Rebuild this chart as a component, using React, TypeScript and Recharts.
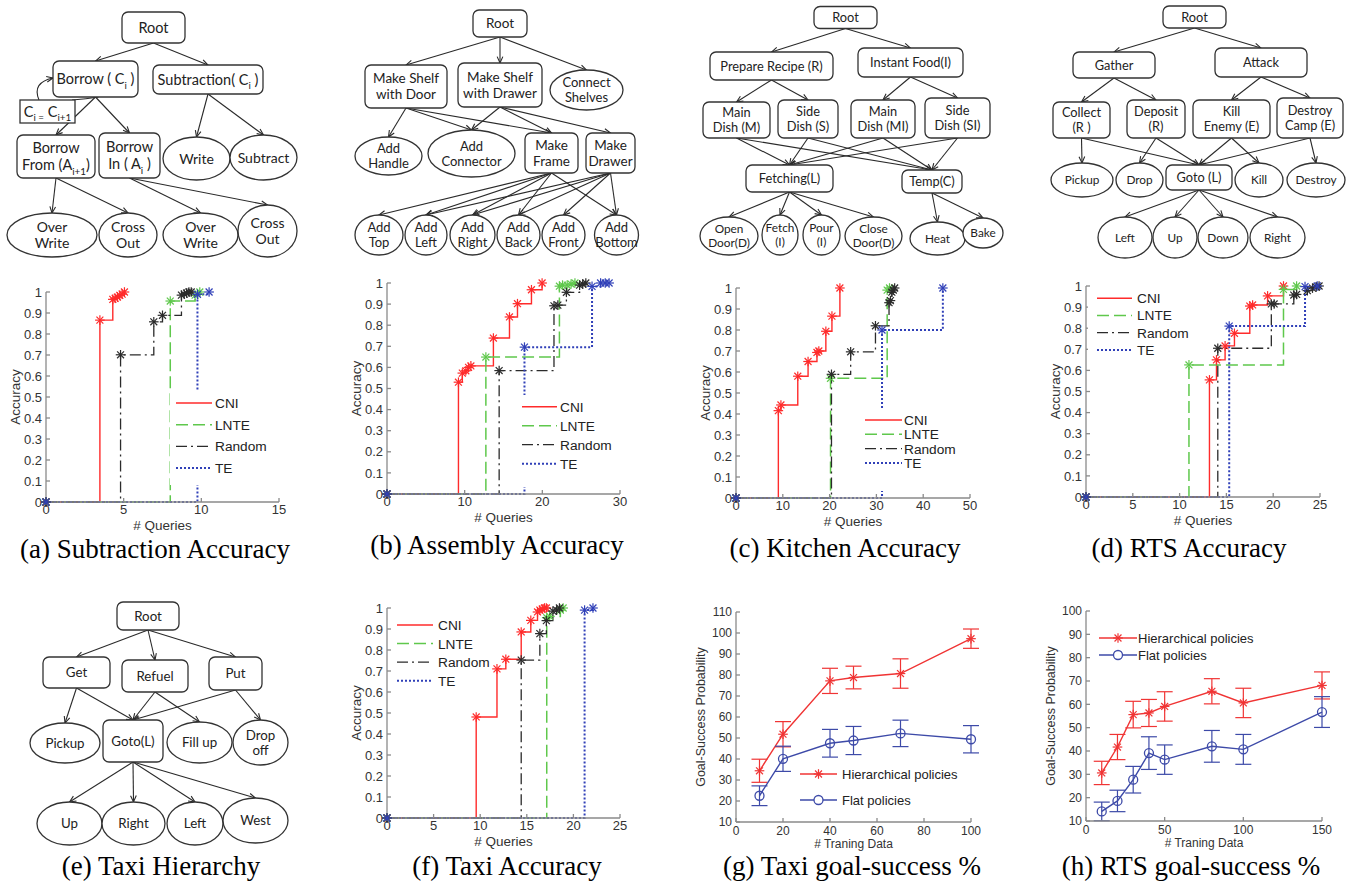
import React from 'react';
import { LineChart, Line, XAxis, YAxis, ErrorBar, ScatterChart, Scatter, ReferenceLine } from 'recharts';

const SANS = '"Liberation Sans", Arial, Helvetica, sans-serif';
const TREE = 'Lato, "Noto Sans", sans-serif';
const SERIF = '"Liberation Serif", "Times New Roman", serif';
const AXIS = '#8a8a8a';
const TXT = '#333';

// ---------------- accuracy (step) chart data ----------------
const methodNames = ['CNI', 'LNTE', 'Random', 'TE'];
const methodColors = ['#ff2b2b', '#5fc84c', '#2b2b2b', '#3040b8'];
const methodDash = ['', '12 5', '11 4 2 4', '2 2'];
const methodWidth = [1.4, 1.5, 1.3, 2];
const accuracyTicks = [0, 0.1, 0.2, 0.3, 0.4, 0.5, 0.6, 0.7, 0.8, 0.9, 1];

const subtractionXTicks = [0, 5, 10, 15];
const subtractionCNI = [[0, 0], [3.47, 0.866], [4.3, 0.965], [4.45, 0.97], [4.6, 0.976], [4.75, 0.984], [4.9, 0.99], [5.05, 1]];
const subtractionLNTE = [[0, 0], [8, 0.957], [9.6, 0.985], [9.9, 1]];
const subtractionRandom = [[0, 0], [4.8, 0.701], [6.94, 0.858], [7.5, 0.889], [8.72, 0.985], [8.9, 0.99], [9.05, 0.995], [9.2, 1], [9.35, 1]];
const subtractionTE = [[0, 0], [9.75, 0.989], [10.5, 1]];

const assemblyXTicks = [0, 10, 20, 30];
const assemblyCNI = [[0, 0], [9.2, 0.53], [9.7, 0.573], [10.15, 0.584], [10.5, 0.6], [10.8, 0.607], [13.7, 0.739], [15.77, 0.839], [16.8, 0.902], [18.6, 0.968], [19.97, 1]];
const assemblyLNTE = [[0, 0], [12.73, 0.649], [22.2, 0.985], [22.6, 0.99], [23.2, 0.99], [23.7, 0.995], [24.2, 1]];
const assemblyRandom = [[0, 0], [14.44, 0.585], [21.5, 0.892], [22, 0.895], [23.1, 0.956], [24.8, 0.99], [25.2, 0.995], [25.6, 1]];
const assemblyTE = [[0, 0], [17.7, 0.696], [26.4, 0.984], [27.5, 1], [28.1, 1], [28.6, 1]];

const kitchenXTicks = [0, 10, 20, 30, 40, 50];
const kitchenCNI = [[0, 0], [9.05, 0.416], [9.6, 0.443], [13.2, 0.58], [15.4, 0.65], [17.3, 0.693], [17.7, 0.7], [19.2, 0.794], [20.5, 0.866], [22.2, 1]];
const kitchenLNTE = [[0, 0], [20.2, 0.57], [32.3, 0.99], [32.8, 1]];
const kitchenRandom = [[0, 0], [20.4, 0.589], [24.5, 0.696], [29.8, 0.82], [32.7, 0.93], [33, 0.94], [33.3, 0.98], [33.6, 0.99], [33.9, 1]];
const kitchenTE = [[0, 0], [31.2, 0.8], [44.2, 1]];

const rtsXTicks = [0, 5, 10, 15, 20, 25];
const rtsCNI = [[0, 0], [13.19, 0.555], [13.94, 0.65], [14.86, 0.716], [15.86, 0.776], [17.5, 0.905], [17.8, 0.91], [19.4, 0.953], [21.1, 1]];
const rtsLNTE = [[0, 0], [11, 0.626], [21.1, 0.984], [22.5, 1]];
const rtsRandom = [[0, 0], [14.08, 0.705], [19.8, 0.915], [20.1, 0.915], [22.2, 0.957], [22.5, 0.96], [23.65, 0.978], [24.2, 0.99], [24.6, 0.995], [24.9, 1]];
const rtsTE = [[0, 0], [15.3, 0.81], [23.4, 0.997], [24.7, 1]];

const taxiXTicks = [0, 5, 10, 15, 20, 25];
const taxiCNI = [[0, 0], [9.57, 0.481], [11.8, 0.71], [12.75, 0.756], [14.4, 0.886], [15.43, 0.941], [16.15, 0.981], [16.4, 0.99], [16.65, 0.995], [16.9, 1], [17.1, 1]];
const taxiLNTE = [[0, 0], [17.14, 0.954], [17.45, 0.96], [18.6, 0.99], [18.9, 1]];
const taxiRandom = [[0, 0], [14.4, 0.752], [16.4, 0.878], [17.1, 0.94], [17.8, 0.985], [18.2, 0.99], [18.5, 1]];
const taxiTE = [[0, 0], [21.2, 0.99], [22.1, 1]];

// ---------------- goal-success data ----------------
const taxiTrainX = [10, 20, 40, 50, 70, 100];
const taxiHier = [34.4, 51.8, 77.2, 78.8, 80.7, 97.3];
const taxiHierErr = [5.5, 6, 6, 5.4, 7, 4.6];
const taxiFlat = [22.5, 40.1, 47.5, 48.8, 52.2, 49.4];
const taxiFlatErr = [4.7, 6, 6.6, 6.7, 6.3, 6.5];
const taxiGoalXTicks = [0, 20, 40, 60, 80, 100];
const taxiGoalYTicks = [10, 20, 30, 40, 50, 60, 70, 80, 90, 100, 110];

const rtsTrainX = [10, 20, 30, 40, 50, 80, 100, 150];
const rtsHier = [30.6, 41.7, 55.6, 56.3, 59.1, 65.6, 60.6, 68.1];
const rtsHierErr = [5, 5.4, 5.7, 5.8, 6.3, 5.4, 6.3, 5.8];
const rtsFlat = [14.1, 18.6, 27.7, 39.1, 36.3, 42, 40.7, 56.7];
const rtsFlatErr = [4, 4.6, 5.7, 7, 6.3, 6.8, 6.4, 6.6];
const rtsGoalXTicks = [0, 50, 100, 150];
const rtsGoalYTicks = [10, 20, 30, 40, 50, 60, 70, 80, 90, 100];

const goalNames = ['Hierarchical policies', 'Flat policies'];
const hierColor = '#f03434';
const flatColor = '#3d4aa8';

// ---------------- tree diagrams ----------------
const treeANodes = [
  { id: 'root', label: ['Root'], kind: 'rect', x: 153.5, y: 27.5, w: 63, h: 31 },
  { id: 'borrow', label: ['Borrow ( C_{i} )'], kind: 'rect', x: 95.5, y: 79, w: 85, h: 36 },
  { id: 'subtr', label: ['Subtraction( C_{i} )'], kind: 'rect', x: 208, y: 79.5, w: 110, h: 29 },
  { id: 'loop', label: ['C_{i =} C_{i+1}'], kind: 'box', x: 47.5, y: 111.5, w: 55, h: 23 },
  { id: 'bfrom', label: ['Borrow', 'From (A_{i+1})'], kind: 'rect', x: 56, y: 156.5, w: 78, h: 43 },
  { id: 'bin', label: ['Borrow', 'In ( A_{i} )'], kind: 'rect', x: 129.5, y: 155.5, w: 61, h: 45 },
  { id: 'write', label: ['Write'], kind: 'ellipse', x: 196.5, y: 158.5, w: 67, h: 43 },
  { id: 'subtract', label: ['Subtract'], kind: 'ellipse', x: 263.5, y: 157.5, w: 67, h: 45 },
  { id: 'ow1', label: ['Over', 'Write'], kind: 'ellipse', x: 52, y: 235, w: 90, h: 44 },
  { id: 'co1', label: ['Cross', 'Out'], kind: 'ellipse', x: 128, y: 235, w: 58, h: 44 },
  { id: 'ow2', label: ['Over', 'Write'], kind: 'ellipse', x: 200.5, y: 235, w: 75, h: 44 },
  { id: 'co2', label: ['Cross', 'Out'], kind: 'ellipse', x: 267.5, y: 231, w: 59, h: 52 },
];
const treeAEdges = [['root', 'borrow'], ['root', 'subtr'], ['subtr', 'write'], ['subtr', 'subtract'], ['borrow', 'bfrom'], ['borrow', 'bin'], ['bfrom', 'ow1'], ['bfrom', 'co1'], ['bin', 'ow2'], ['bin', 'co2']];

const treeBNodes = [
  { id: 'root', label: ['Root'], kind: 'rect', x: 500, y: 23.5, w: 54, h: 27 },
  { id: 'msd', label: ['Make Shelf', 'with Door'], kind: 'rect', x: 406, y: 86.5, w: 82, h: 43 },
  { id: 'msdr', label: ['Make Shelf', 'with Drawer'], kind: 'rect', x: 500, y: 85, w: 84, h: 44 },
  { id: 'conn', label: ['Connect', 'Shelves'], kind: 'ellipse', x: 586.5, y: 90, w: 73, h: 40 },
  { id: 'handle', label: ['Add', 'Handle'], kind: 'ellipse', x: 388.5, y: 156, w: 67, h: 38 },
  { id: 'connector', label: ['Add', 'Connector'], kind: 'ellipse', x: 471.5, y: 153.5, w: 87, h: 47 },
  { id: 'frame', label: ['Make', 'Frame'], kind: 'rect', x: 551.5, y: 153, w: 53, h: 40 },
  { id: 'drawer', label: ['Make', 'Drawer'], kind: 'rect', x: 610.5, y: 153, w: 49, h: 40 },
  { id: 'top', label: ['Add', 'Top'], kind: 'ellipse', x: 379, y: 235, w: 48, h: 40 },
  { id: 'left', label: ['Add', 'Left'], kind: 'ellipse', x: 426, y: 235, w: 42, h: 40 },
  { id: 'right', label: ['Add', 'Right'], kind: 'ellipse', x: 472.5, y: 235, w: 45, h: 40 },
  { id: 'back', label: ['Add', 'Back'], kind: 'ellipse', x: 518.5, y: 235, w: 43, h: 40 },
  { id: 'front', label: ['Add', 'Front'], kind: 'ellipse', x: 563.5, y: 235, w: 43, h: 40 },
  { id: 'bottom', label: ['Add', 'Bottom'], kind: 'ellipse', x: 616.5, y: 235, w: 44, h: 40 },
];
const treeBEdges = [['root', 'msd'], ['root', 'msdr'], ['root', 'conn'], ['msd', 'handle'], ['msd', 'connector'], ['msd', 'frame'], ['msdr', 'connector'], ['msdr', 'frame'], ['msdr', 'drawer'], ['frame', 'top'], ['frame', 'left'], ['frame', 'right'], ['frame', 'back'], ['frame', 'bottom'], ['drawer', 'left'], ['drawer', 'right'], ['drawer', 'back'], ['drawer', 'front'], ['drawer', 'bottom']];

const treeCNodes = [
  { id: 'root', label: ['Root'], kind: 'rect', x: 845.5, y: 17.5, w: 63, h: 22 },
  { id: 'prep', label: ['Prepare Recipe (R)'], kind: 'rect', x: 771.5, y: 66, w: 123, h: 28 },
  { id: 'inst', label: ['Instant Food(I)'], kind: 'rect', x: 910.5, y: 62.5, w: 105, h: 29 },
  { id: 'md', label: ['Main', 'Dish (M)'], kind: 'rect', x: 736.5, y: 120, w: 67, h: 36 },
  { id: 'sd', label: ['Side', 'Dish (S)'], kind: 'rect', x: 808, y: 119, w: 60, h: 38 },
  { id: 'mdi', label: ['Main', 'Dish (MI)'], kind: 'rect', x: 883, y: 119, w: 64, h: 38 },
  { id: 'sdi', label: ['Side', 'Dish (SI)'], kind: 'rect', x: 957.5, y: 118, w: 65, h: 40 },
  { id: 'fetching', label: ['Fetching(L)'], kind: 'rect', x: 789.5, y: 178.5, w: 87, h: 27 },
  { id: 'temp', label: ['Temp(C)'], kind: 'rect', x: 932, y: 181.5, w: 60, h: 23 },
  { id: 'open', label: ['Open', 'Door(D)'], kind: 'ellipse', x: 729, y: 236, w: 58, h: 38 },
  { id: 'fetch', label: ['Fetch', '(I)'], kind: 'ellipse', x: 780, y: 235, w: 36, h: 40 },
  { id: 'pour', label: ['Pour', '(I)'], kind: 'ellipse', x: 821.5, y: 235, w: 37, h: 40 },
  { id: 'close', label: ['Close', 'Door(D)'], kind: 'ellipse', x: 873.5, y: 236, w: 57, h: 38 },
  { id: 'heat', label: ['Heat'], kind: 'ellipse', x: 937.5, y: 238.5, w: 55, h: 33 },
  { id: 'bake', label: ['Bake'], kind: 'ellipse', x: 983, y: 233, w: 40, h: 30 },
];
const treeCEdges = [['root', 'prep'], ['root', 'inst'], ['prep', 'md'], ['prep', 'sd'], ['inst', 'mdi'], ['inst', 'sdi'], ['md', 'fetching'], ['md', 'temp'], ['sd', 'fetching'], ['sd', 'temp'], ['mdi', 'fetching'], ['mdi', 'temp'], ['sdi', 'fetching'], ['sdi', 'temp'], ['fetching', 'open'], ['fetching', 'fetch'], ['fetching', 'pour'], ['fetching', 'close'], ['temp', 'heat'], ['temp', 'bake']];

const treeDNodes = [
  { id: 'root', label: ['Root'], kind: 'rect', x: 1194.5, y: 17, w: 63, h: 22 },
  { id: 'gather', label: ['Gather'], kind: 'rect', x: 1114, y: 65, w: 82, h: 26 },
  { id: 'attack', label: ['Attack'], kind: 'rect', x: 1261, y: 62.5, w: 92, h: 29 },
  { id: 'collect', label: ['Collect', '(R )'], kind: 'rect', x: 1081.5, y: 120, w: 57, h: 36 },
  { id: 'deposit', label: ['Deposit', '(R)'], kind: 'rect', x: 1156, y: 119, w: 58, h: 38 },
  { id: 'kille', label: ['Kill', 'Enemy (E)'], kind: 'rect', x: 1231.5, y: 119, w: 77, h: 38 },
  { id: 'destc', label: ['Destroy', 'Camp (E)'], kind: 'rect', x: 1310, y: 118, w: 66, h: 40 },
  { id: 'pickup', label: ['Pickup'], kind: 'ellipse', x: 1082, y: 180, w: 62, h: 34 },
  { id: 'drop', label: ['Drop'], kind: 'ellipse', x: 1139.5, y: 180, w: 47, h: 34 },
  { id: 'goto', label: ['Goto (L)'], kind: 'rect', x: 1199, y: 177.5, w: 66, h: 25 },
  { id: 'kill', label: ['Kill'], kind: 'ellipse', x: 1259, y: 180, w: 48, h: 34 },
  { id: 'destroy', label: ['Destroy'], kind: 'ellipse', x: 1316, y: 180, w: 58, h: 34 },
  { id: 'left', label: ['Left'], kind: 'ellipse', x: 1125, y: 237.5, w: 54, h: 41 },
  { id: 'up', label: ['Up'], kind: 'ellipse', x: 1175, y: 237.5, w: 44, h: 41 },
  { id: 'down', label: ['Down'], kind: 'ellipse', x: 1223, y: 237.5, w: 50, h: 41 },
  { id: 'right', label: ['Right'], kind: 'ellipse', x: 1277.5, y: 237.5, w: 55, h: 41 },
];
const treeDEdges = [['root', 'gather'], ['root', 'attack'], ['gather', 'collect'], ['gather', 'deposit'], ['attack', 'kille'], ['attack', 'destc'], ['collect', 'pickup'], ['collect', 'goto'], ['deposit', 'drop'], ['deposit', 'goto'], ['kille', 'goto'], ['kille', 'kill'], ['destc', 'goto'], ['destc', 'destroy'], ['goto', 'left'], ['goto', 'up'], ['goto', 'down'], ['goto', 'right']];

const treeENodes = [
  { id: 'root', label: ['Root'], kind: 'rect', x: 148, y: 616, w: 62, h: 28 },
  { id: 'get', label: ['Get'], kind: 'rect', x: 76.5, y: 672.5, w: 67, h: 31 },
  { id: 'refuel', label: ['Refuel'], kind: 'rect', x: 155, y: 676, w: 66, h: 32 },
  { id: 'put', label: ['Put'], kind: 'rect', x: 235.5, y: 673.5, w: 53, h: 33 },
  { id: 'pickup', label: ['Pickup'], kind: 'ellipse', x: 65, y: 743, w: 70, h: 40 },
  { id: 'goto', label: ['Goto(L)'], kind: 'rect', x: 133, y: 741, w: 60, h: 42 },
  { id: 'fill', label: ['Fill up'], kind: 'ellipse', x: 199.5, y: 742.5, w: 65, h: 41 },
  { id: 'drop', label: ['Drop', 'off'], kind: 'ellipse', x: 260.5, y: 742.5, w: 55, h: 45 },
  { id: 'up', label: ['Up'], kind: 'ellipse', x: 69.5, y: 823.5, w: 65, h: 43 },
  { id: 'right', label: ['Right'], kind: 'ellipse', x: 133.5, y: 823.5, w: 63, h: 43 },
  { id: 'left', label: ['Left'], kind: 'ellipse', x: 195, y: 823.5, w: 56, h: 43 },
  { id: 'west', label: ['West'], kind: 'ellipse', x: 255.5, y: 820.5, w: 65, h: 45 },
];
const treeEEdges = [['root', 'get'], ['root', 'refuel'], ['root', 'put'], ['get', 'pickup'], ['get', 'goto'], ['refuel', 'goto'], ['refuel', 'fill'], ['put', 'goto'], ['put', 'drop'], ['goto', 'up'], ['goto', 'right'], ['goto', 'left'], ['goto', 'west']];

// ---------------- helpers ----------------
const toXY = (pts: number[][]) => pts.map(([x, y]) => ({ x, y }));
const fmtAcc = (v: number) => (v === 0 ? '0' : v === 1 ? '1' : v.toFixed(1));

function Star({ cx, cy, color, r = 4.8 }: any) {
  if (cx == null || cy == null) return null;
  const d = r * 0.72;
  return (
    <g stroke={color} strokeWidth={1.2} fill="none">
      <line x1={cx - r} y1={cy} x2={cx + r} y2={cy} />
      <line x1={cx} y1={cy - r} x2={cx} y2={cy + r} />
      <line x1={cx - d} y1={cy - d} x2={cx + d} y2={cy + d} />
      <line x1={cx - d} y1={cy + d} x2={cx + d} y2={cy - d} />
    </g>
  );
}

function RichLine({ x, y, text, fs }: any) {
  const parts = text.split(/(_\{[^}]*\})/).filter((s: string) => s.length > 0);
  let shift = 0;
  return (
    <text x={x} y={y} textAnchor="middle" fontSize={fs} fontFamily={TREE} fill="#222">
      {parts.map((p: string, i: number) => {
        if (p.startsWith('_{')) {
          const dy = fs * 0.3 - shift;
          shift = fs * 0.3;
          return <tspan key={i} dy={dy} fontSize={fs * 0.68}>{p.slice(2, -1)}</tspan>;
        }
        const dy = -shift;
        shift = 0;
        return <tspan key={i} dy={dy}>{p}</tspan>;
      })}
    </text>
  );
}

const makeNodeShape = (fs: number, leafFs: number) => (props: any) => {
  const { cx, cy, payload: n } = props;
  if (cx == null || !n) return null;
  const f = n.kind === 'ellipse' ? leafFs : fs;
  const lh = f * 1.17;
  const el = n.kind === 'ellipse'
    ? <ellipse cx={cx} cy={cy} rx={n.w / 2} ry={n.h / 2} />
    : <rect x={cx - n.w / 2} y={cy - n.h / 2} width={n.w} height={n.h} rx={n.kind === 'box' ? 0 : 6} />;
  return (
    <g>
      <g fill="#fff" stroke="#333" strokeWidth={1.3}>{el}</g>
      {n.label.map((t: string, i: number) => (
        <RichLine key={i} x={cx} y={cy + (i - (n.label.length - 1) / 2) * lh + f * 0.36} text={t} fs={f} />
      ))}
    </g>
  );
};

const arrowHead = (x2: number, y2: number, a: number) => {
  const L = 7, s = 0.42;
  return `${x2 - L * Math.cos(a - s)},${y2 - L * Math.sin(a - s)} ${x2},${y2} ${x2 - L * Math.cos(a + s)},${y2 - L * Math.sin(a + s)}`;
};

const arrowShape = (p: any) => {
  const { x1, y1, x2, y2 } = p;
  const a = Math.atan2(y2 - y1, x2 - x1);
  return (
    <g stroke="#2a2a2a" strokeWidth={1.1} fill="none">
      <line x1={x1} y1={y1} x2={x2} y2={y2} />
      <polyline points={arrowHead(x2, y2, a)} />
    </g>
  );
};

const loopTailShape = (p: any) => {
  const { x1, y1, x2, y2 } = p;
  return <path d={`M${x1},${y1} Q${x1 - 12},${y2 - 1} ${x2},${y2}`} stroke="#2a2a2a" strokeWidth={1.1} fill="none" />;
};
const loopHeadShape = (p: any) => {
  const { x1, y1, x2, y2 } = p;
  return (
    <g stroke="#2a2a2a" strokeWidth={1.1} fill="none">
      <path d={`M${x1},${y1} C${x1 - 5},${y1 - 12} ${x2 - 14},${y2 + 3} ${x2},${y2}`} />
      <polyline points={arrowHead(x2, y2, -0.2)} />
    </g>
  );
};

function Tree({ nodes, edges, left, top, width, height, fs, leafFs, withLoop }: any) {
  const map: any = Object.fromEntries(nodes.map((n: any) => [n.id, n]));
  const b = map.borrow, lp = map.loop;
  return (
    <div style={{ position: 'absolute', left, top, width, height }}>
      <ScatterChart width={width} height={height} margin={{ top: 0, right: 0, bottom: 0, left: 0 }}>
        <XAxis type="number" dataKey="x" domain={[left, left + width]} hide allowDataOverflow />
        <YAxis type="number" dataKey="y" domain={[top, top + height]} reversed hide allowDataOverflow />
        {edges.map(([a, c]: string[], i: number) => {
          const p = map[a], q = map[c];
          return (
            <ReferenceLine key={i} ifOverflow="visible"
              segment={[{ x: p.x, y: p.y + p.h / 2 }, { x: q.x, y: q.y - q.h / 2 }]}
              shape={arrowShape} />
          );
        })}
        {withLoop && (
          <ReferenceLine ifOverflow="visible"
            segment={[{ x: b.x + 3, y: b.y + b.h / 2 }, { x: lp.x + lp.w / 2 - 3, y: lp.y - lp.h / 2 }]}
            shape={loopTailShape} />
        )}
        {withLoop && (
          <ReferenceLine ifOverflow="visible"
            segment={[{ x: lp.x - lp.w / 2 + 19, y: lp.y - lp.h / 2 }, { x: b.x - b.w / 2, y: b.y - 1 }]}
            shape={loopHeadShape} />
        )}
        <Scatter data={nodes} shape={makeNodeShape(fs, leafFs)} isAnimationActive={false} />
      </ScatterChart>
    </div>
  );
}

function AccuracyChart({ plot, xMax, xTicks, series }: any) {
  const W = plot.w + 60, H = plot.h + 50;
  const tickStyle = { fill: TXT, fontSize: 13, fontFamily: SANS };
  return (
    <div style={{ position: 'absolute', left: plot.x - 50, top: plot.y - 10, width: W, height: H }}>
      <LineChart width={W} height={H} margin={{ top: 10, right: 10, bottom: 0, left: 0 }}>
        <XAxis type="number" dataKey="x" domain={[0, xMax]} ticks={xTicks} interval={0}
          height={40} tickSize={-4} tickMargin={7} stroke={AXIS} strokeWidth={1.3} tick={tickStyle}
          label={{ value: '# Queries', position: 'insideBottom', offset: 12, fill: TXT, fontSize: 13.5, fontFamily: SANS }} />
        <XAxis xAxisId="top" orientation="top" type="number" domain={[0, xMax]} ticks={xTicks} interval={0}
          allowDataOverflow height={0} tickSize={-4} tick={false} stroke={AXIS} strokeWidth={1.3} />
        <YAxis type="number" domain={[0, 1]} ticks={accuracyTicks} interval={0} width={50}
          tickSize={-4} tickMargin={8} stroke={AXIS} strokeWidth={1.3} tick={tickStyle} tickFormatter={fmtAcc}
          label={{ value: 'Accuracy', angle: -90, position: 'insideLeft', offset: 19, fill: TXT, fontSize: 13.5, fontFamily: SANS, style: { textAnchor: 'middle' } }} />
        <YAxis yAxisId="right" orientation="right" type="number" domain={[0, 1]} ticks={accuracyTicks} interval={0}
          allowDataOverflow width={0} tickSize={-4} tick={false} stroke={AXIS} strokeWidth={1.3} />
        {series.map((pts: number[][], i: number) => (
          <Line key={methodNames[i]} name={methodNames[i]} data={toXY(pts)} dataKey="y" type="stepAfter"
            stroke={methodColors[i]} strokeWidth={methodWidth[i]} strokeDasharray={methodDash[i] || undefined}
            dot={(p: any) => <Star key={`d${i}-${p.index}`} cx={p.cx} cy={p.cy} color={methodColors[i]} />}
            activeDot={false} isAnimationActive={false} />
        ))}
      </LineChart>
    </div>
  );
}

function GoalChart({ plot, xMax, xTicks, yMin, yMax, yTicks, xs, hier, hierErr, flat, flatErr }: any) {
  const W = plot.w + 60, H = plot.h + 50;
  const rows = xs.map((x: number, i: number) => ({ x, h: hier[i], he: hierErr[i], f: flat[i], fe: flatErr[i] }));
  const tickStyle = { fill: TXT, fontSize: 12, fontFamily: SANS };
  return (
    <div style={{ position: 'absolute', left: plot.x - 50, top: plot.y - 10, width: W, height: H }}>
      <LineChart width={W} height={H} data={rows} margin={{ top: 10, right: 10, bottom: 0, left: 0 }}>
        <XAxis type="number" dataKey="x" domain={[0, xMax]} ticks={xTicks} interval={0}
          height={40} tickSize={-4} tickMargin={8} stroke={AXIS} strokeWidth={1.3} tick={tickStyle}
          label={{ value: '# Traning Data', position: 'insideBottom', offset: 14.5, fill: TXT, fontSize: 12, fontFamily: SANS }} />
        <XAxis xAxisId="top" orientation="top" type="number" domain={[0, xMax]} ticks={xTicks} interval={0}
          allowDataOverflow height={0} tickSize={-4} tick={false} stroke={AXIS} strokeWidth={1.3} />
        <YAxis type="number" domain={[yMin, yMax]} ticks={yTicks} interval={0} width={50}
          tickSize={-4} tickMargin={8} stroke={AXIS} strokeWidth={1.3} tick={tickStyle}
          label={{ value: 'Goal-Success Probability', angle: -90, position: 'insideLeft', offset: 15, fill: TXT, fontSize: 12.5, fontFamily: SANS, style: { textAnchor: 'middle' } }} />
        <YAxis yAxisId="right" orientation="right" type="number" domain={[yMin, yMax]} ticks={yTicks} interval={0}
          allowDataOverflow width={0} tickSize={-4} tick={false} stroke={AXIS} strokeWidth={1.3} />
        <Line name={goalNames[0]} dataKey="h" stroke={hierColor} strokeWidth={1.4} type="linear"
          dot={(p: any) => <Star key={`h${p.index}`} cx={p.cx} cy={p.cy} color={hierColor} />}
          activeDot={false} isAnimationActive={false}>
          <ErrorBar dataKey="he" width={8} stroke={hierColor} strokeWidth={1.2} direction="y" />
        </Line>
        <Line name={goalNames[1]} dataKey="f" stroke={flatColor} strokeWidth={1.4} type="linear"
          dot={(p: any) => <circle key={`f${p.index}`} cx={p.cx} cy={p.cy} r={4.5} fill="none" stroke={flatColor} strokeWidth={1.3} />}
          activeDot={false} isAnimationActive={false}>
          <ErrorBar dataKey="fe" width={8} stroke={flatColor} strokeWidth={1.2} direction="y" />
        </Line>
      </LineChart>
    </div>
  );
}

function StepLegend({ box, y0, gap, sx, sl, tx }: any) {
  const fs = 13.7;
  return (
    <g>
      <rect x={box[0]} y={box[1]} width={box[2] - box[0]} height={box[3] - box[1]} fill="#fff" />
      {methodNames.map((n, i) => {
        const y = y0 + i * gap;
        return (
          <g key={n}>
            <line x1={sx} x2={sx + sl} y1={y} y2={y} stroke={methodColors[i]} strokeWidth={methodWidth[i]}
              strokeDasharray={methodDash[i] || undefined} />
            <text x={tx} y={y + fs * 0.36} fontSize={fs} fontFamily={SANS} fill="#222">{n}</text>
          </g>
        );
      })}
    </g>
  );
}

function GoalLegend({ y0, gap, sx, sl, tx }: any) {
  const fs = 13;
  const mx = sx + sl / 2;
  return (
    <g>
      <line x1={sx} x2={sx + sl} y1={y0} y2={y0} stroke={hierColor} strokeWidth={1.4} />
      <Star cx={mx} cy={y0} color={hierColor} />
      <text x={tx} y={y0 + fs * 0.36} fontSize={fs} fontFamily={SANS} fill="#222">{goalNames[0]}</text>
      <line x1={sx} x2={sx + sl} y1={y0 + gap} y2={y0 + gap} stroke={flatColor} strokeWidth={1.4} />
      <circle cx={mx} cy={y0 + gap} r={4.5} fill="#fff" stroke={flatColor} strokeWidth={1.3} />
      <text x={tx} y={y0 + gap + fs * 0.36} fontSize={fs} fontFamily={SANS} fill="#222">{goalNames[1]}</text>
    </g>
  );
}

const captions = [
  { t: '(a) Subtraction Accuracy', x: 155, y: 558 },
  { t: '(b) Assembly Accuracy', x: 497, y: 554 },
  { t: '(c) Kitchen Accuracy', x: 845, y: 557 },
  { t: '(d) RTS Accuracy', x: 1189, y: 557 },
  { t: '(e) Taxi Hierarchy', x: 161, y: 875 },
  { t: '(f) Taxi Accuracy', x: 507, y: 875 },
  { t: '(g) Taxi goal-success %', x: 852, y: 875 },
  { t: '(h) RTS goal-success %', x: 1191, y: 875 },
];

export default function App() {
  return (
    <div style={{ position: 'absolute', left: 0, top: 0, width: 1356, height: 886, background: '#fff', overflow: 'hidden' }}>
      <Tree nodes={treeANodes} edges={treeAEdges} left={0} top={0} width={310} height={268} fs={14.5} leafFs={14} withLoop />
      <Tree nodes={treeBNodes} edges={treeBEdges} left={340} top={0} width={310} height={268} fs={13.5} leafFs={13} />
      <Tree nodes={treeCNodes} edges={treeCEdges} left={685} top={0} width={335} height={268} fs={12.8} leafFs={11.8} />
      <Tree nodes={treeDNodes} edges={treeDEdges} left={1030} top={0} width={326} height={268} fs={12.8} leafFs={11.8} />
      <Tree nodes={treeENodes} edges={treeEEdges} left={0} top={590} width={310} height={265} fs={13.3} leafFs={13.3} />

      <AccuracyChart plot={{ x: 46, y: 292, w: 233, h: 210 }} xMax={15} xTicks={subtractionXTicks}
        series={[subtractionCNI, subtractionLNTE, subtractionRandom, subtractionTE]} />
      <AccuracyChart plot={{ x: 387, y: 283, w: 233, h: 211 }} xMax={30} xTicks={assemblyXTicks}
        series={[assemblyCNI, assemblyLNTE, assemblyRandom, assemblyTE]} />
      <AccuracyChart plot={{ x: 736, y: 288, w: 234, h: 210 }} xMax={50} xTicks={kitchenXTicks}
        series={[kitchenCNI, kitchenLNTE, kitchenRandom, kitchenTE]} />
      <AccuracyChart plot={{ x: 1086, y: 286, w: 234, h: 211 }} xMax={25} xTicks={rtsXTicks}
        series={[rtsCNI, rtsLNTE, rtsRandom, rtsTE]} />
      <AccuracyChart plot={{ x: 387, y: 608, w: 233, h: 210 }} xMax={25} xTicks={taxiXTicks}
        series={[taxiCNI, taxiLNTE, taxiRandom, taxiTE]} />

      <GoalChart plot={{ x: 736, y: 612, w: 235, h: 210 }} xMax={100} xTicks={taxiGoalXTicks} yMin={10} yMax={110}
        yTicks={taxiGoalYTicks} xs={taxiTrainX} hier={taxiHier} hierErr={taxiHierErr} flat={taxiFlat} flatErr={taxiFlatErr} />
      <GoalChart plot={{ x: 1086, y: 611, w: 236, h: 210 }} xMax={150} xTicks={rtsGoalXTicks} yMin={10} yMax={100}
        yTicks={rtsGoalYTicks} xs={rtsTrainX} hier={rtsHier} hierErr={rtsHierErr} flat={rtsFlat} flatErr={rtsFlatErr} />

      <svg width={1356} height={886} style={{ position: 'absolute', left: 0, top: 0, pointerEvents: 'none' }}>
        <StepLegend box={[170, 391, 270, 485]} y0={403} gap={21.7} sx={176} sl={36} tx={215} />
        <StepLegend box={[520, 395, 610, 487]} y0={406.7} gap={19} sx={522} sl={35} tx={560} />
        <StepLegend box={[863, 410, 958, 491]} y0={420} gap={14.3} sx={865} sl={37} tx={904} />
        <StepLegend box={[1088, 288, 1189, 358]} y0={298.3} gap={17.2} sx={1097} sl={35} tx={1137} />
        <StepLegend box={[394, 610, 489, 687]} y0={625} gap={18.6} sx={397} sl={36} tx={438} />
        <GoalLegend y0={774} gap={26} sx={800} sl={37} tx={842} />
        <GoalLegend y0={638} gap={17} sx={1099} sl={38} tx={1138} />
        {captions.map((c) => (
          <text key={c.t} x={c.x} y={c.y} textAnchor="middle" fontSize={27} fontFamily={SERIF} fill="#000">{c.t}</text>
        ))}
      </svg>
    </div>
  );
}
